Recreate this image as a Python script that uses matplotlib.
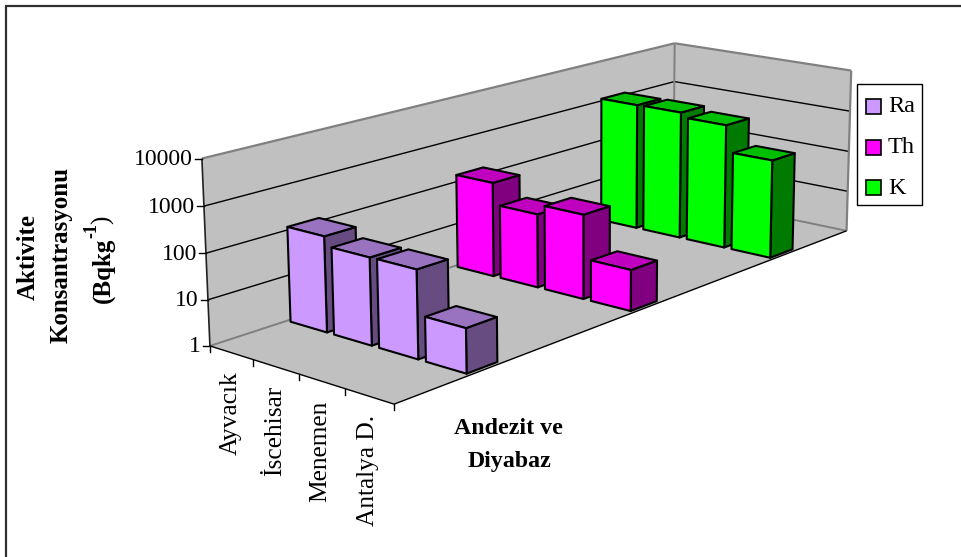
import numpy as np
import matplotlib
matplotlib.use("Agg")
import matplotlib.pyplot as plt
from matplotlib.patches import Polygon, Rectangle

plt.rcParams['font.family'] = ['Liberation Serif', 'DejaVu Serif']

# ---- data -------------------------------------------------------------
categories = ["Ayvacık", "İscehisar", "Menemen", "Antalya D."]
series_names = ["Ra", "Th", "K"]
ra_values = [128, 80, 81, 9.0]
th_values = [158, 50, 85, 8.5]
k_values = [1230, 1260, 980, 225]
z_ticks = [1, 10, 100, 1000, 10000]
z_labels = ["1", "10", "100", "1000", "10000"]
front_colors = ["#CC99FF", "#FF00FF", "#00FF00"]
side_colors = ["#664C80", "#800080", "#007A00"]
top_colors = ["#9973BF", "#BF00BF", "#00BF00"]

# ---- projection: (category, series, decade) -> canvas pixels ------------
anchors_world = np.array([
    (0, 0, 0), (1, 0, 0), (2, 0, 0), (3, 0, 0), (4, 0, 0),
    (4, 3, 0), (0, 3, 0), (0, 0, 4), (4, 3, 4), (0, 3, 4),
    (0, 0, 1), (0, 0, 2), (0, 0, 3), (0, 3, 3), (4, 3, 3)], float)
anchors_px = np.array([
    (210, 346), (254, 361), (298, 374), (344, 389), (395, 403),
    (846, 231), (674, 194), (202, 159), (852, 71), (674, 43),
    (208, 300), (206, 253), (204, 205), (674, 82), (850, 111)], float)


def fit_camera(world, px):
    rows, rhs = [], []
    for (x, y, z), (u, v) in zip(world, px):
        rows.append([x, y, z, 1, 0, 0, 0, 0, -u * x, -u * y, -u * z])
        rhs.append(u)
        rows.append([0, 0, 0, 0, x, y, z, 1, -v * x, -v * y, -v * z])
        rhs.append(v)
    sol = np.linalg.lstsq(np.array(rows), np.array(rhs), rcond=None)[0]
    return np.append(sol, 1.0).reshape(3, 4)


CAM = fit_camera(anchors_world, anchors_px)


def proj(x, y, z):
    h = CAM @ np.array([x, y, z, 1.0])
    return h[0] / h[2], h[1] / h[2]


# ---- canvas -------------------------------------------------------------
fig = plt.figure(figsize=(9.61, 5.57), dpi=100)
ax = fig.add_axes([0, 0, 1, 1])
ax.set_xlim(0, 961)
ax.set_ylim(557, 0)
ax.axis("off")

# chart-area frame: only its top and left edges fall inside the picture
ax.plot([961, 5.5, 5.5], [5.5, 5.5, 557], color="#303030", lw=1.6, zorder=0,
        solid_joinstyle="miter")

WALL = "#C0C0C0"
GREY = "#808080"
nx, ny, nz = len(categories), len(series_names), len(z_ticks) - 1


def face(points, fc, ec="none", lw=0.0, z=1):
    ax.add_patch(Polygon([proj(*p) for p in points], closed=True, fc=fc, ec=ec,
                         lw=lw, joinstyle="round", zorder=z))


def seg(a, b, color="black", lw=1.0, z=2):
    pa, pb = proj(*a), proj(*b)
    ax.plot([pa[0], pb[0]], [pa[1], pb[1]], color=color, lw=lw, zorder=z,
            solid_capstyle="butt")


# walls and floor
face([(0, 0, 0), (0, 3, 0), (0, 3, nz), (0, 0, nz)], WALL)
face([(0, 3, 0), (nx, 3, 0), (nx, 3, nz), (0, 3, nz)], WALL)
face([(0, 0, 0), (nx, 0, 0), (nx, 3, 0), (0, 3, 0)], WALL)

# gridlines
for k in range(1, nz):
    seg((0, 0, k), (0, ny, k), "black", 1.0)
    seg((0, ny, k), (nx, ny, k), "black", 1.0)

# wall outlines
seg((0, 0, nz), (0, ny, nz), GREY, 1.6)
seg((0, ny, nz), (nx, ny, nz), GREY, 1.6)
seg((nx, ny, nz), (nx, ny, 0), GREY, 1.6)
seg((0, ny, nz), (0, ny, 0), GREY, 1.4)
seg((0, 0, 0), (0, ny, 0), GREY, 1.4)
seg((0, ny, 0), (nx, ny, 0), GREY, 1.4)
seg((0, 0, 0), (0, 0, nz), "#222222", 1.2, 3)
seg((0, 0, 0), (nx, 0, 0), "black", 1.0, 3)
seg((nx, 0, 0), (nx, ny, 0), "black", 1.0, 3)

# ticks and labels
for k, lab in enumerate(z_labels):
    u, v = proj(0, 0, k)
    ax.plot([u - 7, u], [v, v], color="black", lw=1.0, zorder=3)
    ax.text(u - 9, v + 1, lab, ha="right", va="center", fontsize=17, color="black")
for i in range(nx + 1):
    u, v = proj(i, 0, 0)
    ax.plot([u, u], [v, v + 6], color="black", lw=1.0, zorder=3)
for i, lab in enumerate(categories):
    u, v = proj(i + 0.5, 0, 0)
    ax.text(u - 1, v + 19, lab, rotation=90, ha="center", va="top", fontsize=18.3)

# bars
BAR_W = 0.84
BAR_D = 0.175
order = 10
for s, values in reversed(list(enumerate([ra_values, th_values, k_values]))):
    y0 = s + 0.5 - BAR_D / 2
    y1 = y0 + BAR_D
    for i, val in enumerate(values):
        x0 = i + (1 - BAR_W) / 2
        x1 = x0 + BAR_W
        h = np.log10(val)
        kw = dict(ec="black", lw=1.5, z=order)
        face([(x1, y0, 0), (x1, y1, 0), (x1, y1, h), (x1, y0, h)], side_colors[s], **kw)
        face([(x0, y0, h), (x1, y0, h), (x1, y1, h), (x0, y1, h)], top_colors[s], **kw)
        face([(x0, y0, 0), (x1, y0, 0), (x1, y0, h), (x0, y0, h)], front_colors[s], **kw)
        order += 1

# legend
ax.add_patch(Rectangle((857, 84), 65, 121, fc="white", ec="black", lw=1.0, zorder=50))
for n, name in enumerate(series_names):
    top = 99 + 40.5 * n
    ax.add_patch(Rectangle((866, top), 15, 15, fc=front_colors[n], ec="black", lw=1.2, zorder=51))
    ax.text(888, top + 8, name, ha="left", va="center", fontsize=17.5, zorder=51)

# axis titles
bold = dict(fontweight="bold", fontsize=18, ha="center", va="center", rotation=90)
ax.text(28, 257, "Aktivite", **bold)
ax.text(61, 255, "Konsantrasyonu", **bold)
ax.text(103, 270, "(Bqkg", **bold)
ax.text(92, 231, "-1", **{**bold, "fontsize": 13})
ax.text(103, 220, ")", **{**bold, "fontweight": "normal"})
ax.text(508, 429, "Andezit ve", fontweight="bold", fontsize=17.2, ha="center", va="center")
ax.text(509, 461, "Diyabaz", fontweight="bold", fontsize=17.2, ha="center", va="center")

fig.savefig("out.png", dpi=100)
